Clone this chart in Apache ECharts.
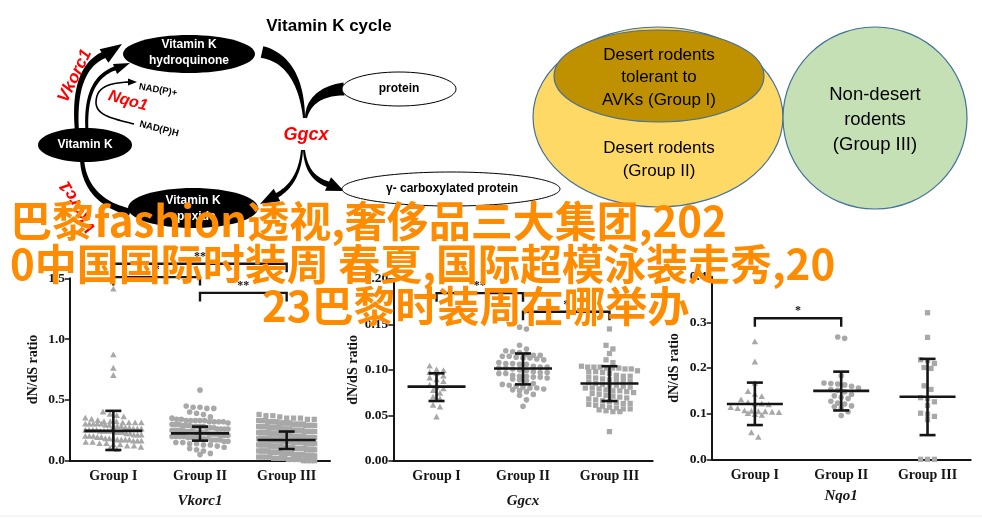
<!DOCTYPE html>
<html><head><meta charset="utf-8">
<script src="https://cdn.jsdelivr.net/npm/echarts@6/dist/echarts.min.js"></script>
<style>html,body{margin:0;padding:0;background:#fff}#c{width:982px;height:518px}</style>
</head><body><div id="c"></div>
<script>
// ---------- data ----------
const groups = ['Group I', 'Group II', 'Group III'];
const panelGenes = ['Vkorc1', 'Ggcx', 'Nqo1'];
const yTitle = 'dN/dS ratio';

// Vkorc1
const vkG1 = [1.41,0.87,0.76,0.70,0.40,0.38,0.37,0.36,0.35,0.34,0.33,
0.32,0.32,0.32,0.31,0.31,0.31,0.31,0.30,0.30,0.30,0.30,0.30,
0.29,0.29,0.28,0.28,0.28,0.27,0.27,0.26,0.26,0.26,
0.25,0.25,0.25,0.25,0.24,0.24,0.24,0.24,0.23,0.23,0.23,
0.22,0.22,0.21,0.21,0.21,0.20,0.20,0.20,0.19,0.19,
0.18,0.18,0.18,0.17,0.17,0.17,0.17,0.16,0.16,0.16,
0.15,0.15,0.14,0.14,0.13,0.13,0.12,0.12,0.11,0.10,0.09];
const vkG2 = [0.58,0.45,0.44,0.44,0.43,0.43,0.40,0.39,0.38,0.36,0.35,
0.34,0.34,0.33,0.33,0.33,0.33,0.33,0.32,0.32,0.32,0.32,
0.31,0.30,0.30,0.30,0.29,0.29,0.29,0.28,0.28,0.28,0.28,
0.27,0.27,0.27,0.26,0.26,0.26,0.26,0.25,0.25,0.25,0.25,0.25,
0.24,0.24,0.24,0.24,0.23,0.23,0.23,0.23,0.23,0.22,0.22,0.22,0.22,
0.21,0.21,0.21,0.21,0.20,0.20,0.20,0.20,0.19,0.19,0.19,0.18,0.18,0.18,
0.17,0.17,0.17,0.16,0.16,0.15,0.15,0.14,0.14,0.13,0.13,0.12,0.11,0.10,0.09,0.08,0.06,0.05];
const vkG3 = [0.38,0.37,0.37,0.36,0.35,0.35,0.35,0.34,0.34,0.33,0.33,0.33,0.33,
0.32,0.32,0.32,0.32,0.32,0.31,0.31,0.31,0.31,0.31,0.31,0.30,0.30,0.30,0.30,0.30,0.30,
0.29,0.29,0.29,0.29,0.29,0.28,0.28,0.28,0.28,0.28,0.27,0.27,0.27,0.27,0.27,0.27,
0.26,0.26,0.26,0.26,0.26,0.25,0.25,0.25,0.25,0.25,0.25,0.24,0.24,0.24,0.24,0.24,0.24,
0.23,0.23,0.23,0.23,0.23,0.23,0.22,0.22,0.22,0.22,0.22,0.22,0.21,0.21,0.21,0.21,0.21,0.21,
0.20,0.20,0.20,0.20,0.20,0.20,0.20,0.19,0.19,0.19,0.19,0.19,0.19,
0.18,0.18,0.18,0.18,0.18,0.18,0.18,0.17,0.17,0.17,0.17,0.17,0.17,0.17,
0.16,0.16,0.16,0.16,0.16,0.16,0.15,0.15,0.15,0.15,0.15,0.15,0.15,
0.14,0.14,0.14,0.14,0.14,0.14,0.13,0.13,0.13,0.13,0.13,0.13,
0.12,0.12,0.12,0.12,0.12,0.12,0.11,0.11,0.11,0.11,0.11,0.11,
0.10,0.10,0.10,0.10,0.10,0.10,0.09,0.09,0.09,0.09,0.09,0.08,0.08,0.08,0.08,0.08,
0.07,0.07,0.07,0.07,0.07,0.06,0.06,0.06,0.06,0.06,0.05,0.05,0.05,0.05,0.05,
0.04,0.04,0.04,0.04,0.04,0.03,0.03,0.03,0.03,0.02,0.02,0.02,0.02,
0.01,0.01,0.01,0.01,0.00,0.00,0.00,0.00];
const vkMean = [0.245, 0.225, 0.170];
const vkLow  = [0.088, 0.165, 0.096];
const vkHigh = [0.410, 0.280, 0.240];
const vkBrackets = [[0,2,1.62],[0,1,1.51],[1,2,1.38]];
const vkStars = ['**','*','**'];
const vkTicks = {min:0, max:1.5, interval:0.5, digits:1};

// Ggcx
const ggG1 = [0.104,0.100,0.099,0.097,0.096,0.093,0.091,0.089,0.087,0.083,0.081,0.079,0.077,0.074,0.070,0.068,0.061,0.059,0.048];
const ggG2 = [0.147,0.145,0.127,0.123,0.121,0.120,0.119,0.117,0.116,0.116,0.115,0.115,0.114,0.113,0.113,0.112,0.111,
0.108,0.107,0.107,0.106,0.106,0.104,0.103,0.103,0.102,0.102,0.101,0.100,0.099,0.098,0.097,0.097,0.096,0.096,
0.094,0.093,0.093,0.092,0.092,0.091,0.090,0.089,0.088,0.085,0.084,0.083,0.082,0.081,0.080,0.080,0.079,0.078,
0.077,0.076,0.073,0.072,0.067,0.060];
const ggG3 = [0.145,0.127,0.123,0.118,0.111,0.108,0.104,0.103,0.103,0.103,0.102,0.102,0.102,0.101,0.101,
0.099,0.098,0.098,0.097,0.096,0.094,0.093,0.093,0.092,0.091,0.090,0.089,0.089,0.088,0.087,0.086,
0.085,0.084,0.083,0.083,0.082,0.081,0.080,0.080,0.079,0.078,0.077,0.077,0.076,0.075,0.074,0.073,
0.072,0.071,0.070,0.069,0.068,0.067,0.066,0.065,0.064,0.063,0.063,0.062,0.061,0.060,0.059,
0.058,0.057,0.057,0.056,0.055,0.054,0.054,0.032];
const ggMean = [0.0815, 0.1015, 0.0850];
const ggLow  = [0.0657, 0.0840, 0.0657];
const ggHigh = [0.0962, 0.1180, 0.1040];
const ggBrackets = [[0,1,0.1844],[1,2,0.164]];
const ggStars = ['**','*'];
const ggTicks = {min:0, max:0.2, interval:0.05, digits:2};

// Nqo1
const nqG1 = [0.257,0.213,0.166,0.148,0.142,0.137,0.130,0.124,0.121,0.121,0.119,0.113,0.111,0.106,0.105,0.104,0.104,0.103,0.102,0.100,0.098,0.096,0.058,0.048];
const nqG2 = [0.268,0.265,0.183,0.167,0.166,0.165,0.163,0.160,0.156,0.153,0.151,0.148,0.142,0.139,0.136,0.133,0.127,0.123,0.121,0.117,0.115,0.112,0.104,0.096];
const nqG3 = [0.321,0.267,0.218,0.216,0.210,0.201,0.199,0.161,0.153,0.135,0.133,0.126,0.118,0.101,0.099,0.094,0.087,0,0,0];
const nqMean = [0.121, 0.150, 0.137];
const nqLow  = [0.075, 0.107, 0.053];
const nqHigh = [0.168, 0.192, 0.220];
const nqBrackets = [[0,1,0.309]];
const nqStars = ['*'];
const nqTicks = {min:0, max:0.4, interval:0.1, digits:1};

// Venn and diagram labels
const vennGroupI = ['Desert rodents', 'tolerant to', 'AVKs (Group I)'];
const vennGroupII = ['Desert rodents', '(Group II)'];
const vennGroupIII = ['Non-desert', 'rodents', '(Group III)'];
const overlayLines = ['巴黎fashion透视,奢侈品三大集团,202', '0中国国际时装周 春夏,国际超模泳装走秀,20', '23巴黎时装周在哪举办'];

// ---------- layout ----------
const serif = '"Liberation Serif", "DejaVu Serif", serif';
const sans = '"Liberation Sans", Arial, sans-serif';
const grids = [
  {left:70, top:278.3, width:260, height:182.4},
  {left:393.3, top:279, width:259.4, height:181.7},
  {left:711.7, top:276.7, width:259, height:182.6}
];
const panels = [
  {g:[vkG1,vkG2,vkG3], mean:vkMean, low:vkLow, high:vkHigh, br:vkBrackets, st:vkStars, t:vkTicks, nameGap:33, mw:29},
  {g:[ggG1,ggG2,ggG3], mean:ggMean, low:ggLow, high:ggHigh, br:ggBrackets, st:ggStars, t:ggTicks, nameGap:33, mw:29},
  {g:[nqG1,nqG2,nqG3], mean:nqMean, low:nqLow, high:nqHigh, br:nqBrackets, st:nqStars, t:nqTicks, nameGap:29, mw:28}
];
const shapes = ['triangle','circle','square'];
const ptColor = '#a8a8a8';
const ink = '#151515';

function marker(shape, x, y, s) {
  const st = {fill: ptColor};
  if (shape === 'triangle') return {type:'polygon', shape:{points:[[x, y - s*0.62],[x - s*0.58, y + s*0.42],[x + s*0.58, y + s*0.42]]}, style:st};
  if (shape === 'circle') return {type:'circle', shape:{cx:x, cy:y, r:s*0.5}, style:st};
  return {type:'rect', shape:{x:x - s*0.47, y:y - s*0.47, width:s*0.94, height:s*0.94}, style:st};
}

const series = [];
const xAxes = [], yAxes = [];
panels.forEach((p, gi) => {
  xAxes.push({
    type:'category', gridIndex:gi, data:groups, boundaryGap:true,
    axisLine:{lineStyle:{color:ink, width:2}},
    axisTick:{alignWithLabel:true, length:5, lineStyle:{color:ink, width:1.5}},
    axisLabel:{fontFamily:serif, fontWeight:'bold', fontSize:14, color:ink, margin:9},
    name:panelGenes[gi], nameLocation:'middle', nameGap:p.nameGap,
    nameTextStyle:{fontFamily:serif, fontStyle:'italic', fontWeight:'bold', fontSize:15, color:ink}
  });
  yAxes.push({
    type:'value', gridIndex:gi, min:p.t.min, max:p.t.max, interval:p.t.interval,
    splitLine:{show:false},
    axisLine:{show:true, lineStyle:{color:ink, width:2}},
    axisTick:{show:true, length:5, lineStyle:{color:ink, width:1.5}},
    axisLabel:{fontFamily:serif, fontWeight:'bold', fontSize:13.5, color:ink, margin:5,
      formatter:(v)=>v.toFixed(p.t.digits)},
    name:yTitle, nameLocation:'middle', nameGap:30, nameRotate:90,
    nameTextStyle:{fontFamily:serif, fontWeight:'bold', fontSize:14, color:ink}
  });
  // swarm points
  series.push({
    type:'custom', coordinateSystem:'cartesian2d', xAxisIndex:gi, yAxisIndex:gi, clip:false, z:2,
    data: p.g.map((vals, i) => [i, vals[vals.length-1]]),
    renderItem: (params, api) => {
      const i = params.dataIndex;
      const vals = p.g[i];
      const size = 5.6, maxHalf = 28;
      const cx = api.coord([i, 0])[0];
      const ys = vals.map(v => api.coord([i, v])[1]).sort((a,b) => a-b);
      const rows = []; let cur = null;
      ys.forEach(y => { if (cur && y - cur[0] < size*0.95) cur.push(y); else { cur = [y]; rows.push(cur); } });
      const children = [];
      rows.forEach(r => {
        const n = r.length;
        const s = n > 1 ? Math.min(size + 1.3, 2*maxHalf/(n-1)) : 0;
        r.forEach((y, k) => children.push(marker(shapes[i], cx + (k - (n-1)/2)*s, y, size)));
      });
      return {type:'group', children};
    }
  });
  // mean and SD error bars
  series.push({
    type:'custom', coordinateSystem:'cartesian2d', xAxisIndex:gi, yAxisIndex:gi, clip:false, z:5,
    data: p.mean.map((m, i) => [i, m, p.low[i], p.high[i]]),
    renderItem: (params, api) => {
      const i = api.value(0);
      const m = api.coord([i, api.value(1)]), lo = api.coord([i, api.value(2)]), hi = api.coord([i, api.value(3)]);
      const ls = {stroke:ink, lineWidth:2.6};
      const cap = 8, hw = p.mw;
      return {type:'group', children:[
        {type:'line', shape:{x1:m[0]-hw, y1:m[1], x2:m[0]+hw, y2:m[1]}, style:ls},
        {type:'line', shape:{x1:lo[0], y1:lo[1], x2:hi[0], y2:hi[1]}, style:ls},
        {type:'line', shape:{x1:lo[0]-cap, y1:lo[1], x2:lo[0]+cap, y2:lo[1]}, style:ls},
        {type:'line', shape:{x1:hi[0]-cap, y1:hi[1], x2:hi[0]+cap, y2:hi[1]}, style:ls}
      ]};
    }
  });
  // significance brackets
  series.push({
    type:'custom', coordinateSystem:'cartesian2d', xAxisIndex:gi, yAxisIndex:gi, clip:false, z:5,
    data: p.br.map(b => [b[0], b[2], b[1]]),
    renderItem: (params, api) => {
      const a = api.coord([api.value(0), api.value(1)]);
      const b = api.coord([api.value(2), api.value(1)]);
      const leg = 8.5;
      return {type:'group', children:[
        {type:'polyline', shape:{points:[[a[0], a[1]+leg],[a[0], a[1]],[b[0], b[1]],[b[0], b[1]+leg]]},
          style:{stroke:ink, lineWidth:2.4, fill:null}},
        {type:'text', style:{text:p.st[params.dataIndex], x:(a[0]+b[0])/2, y:a[1]-1,
          textAlign:'center', textVerticalAlign:'bottom', font:'bold 12px ' + serif, fill:ink}}
      ]};
    }
  });
});

// ---------- diagram helpers ----------
function bez(p0,p1,p2,p3,t){const u=1-t;return [u*u*u*p0[0]+3*u*u*t*p1[0]+3*u*t*t*p2[0]+t*t*t*p3[0], u*u*u*p0[1]+3*u*u*t*p1[1]+3*u*t*t*p2[1]+t*t*t*p3[1]];}
function taper(p0,p1,p2,p3,w0,w1){
  const L=[],R=[],n=30;
  for(let i=0;i<=n;i++){
    const t=i/n, a=bez(p0,p1,p2,p3,Math.max(0,t-0.01)), b=bez(p0,p1,p2,p3,Math.min(1,t+0.01)), c=bez(p0,p1,p2,p3,t);
    let dx=b[0]-a[0], dy=b[1]-a[1]; const len=Math.hypot(dx,dy)||1; dx/=len; dy/=len;
    const w=(w0+(w1-w0)*t)/2;
    L.push([c[0]-dy*w, c[1]+dx*w]); R.push([c[0]+dy*w, c[1]-dx*w]);
  }
  return {type:'polygon', shape:{points:L.concat(R.reverse())}, style:{fill:'#000'}};
}
function head(base, tip, half){
  let dx=tip[0]-base[0], dy=tip[1]-base[1]; const len=Math.hypot(dx,dy); dx/=len; dy/=len;
  return {type:'polygon', shape:{points:[tip,[base[0]-dy*half, base[1]+dx*half],[base[0]+dy*half, base[1]-dx*half]]}, style:{fill:'#000'}};
}
function ell(cx,cy,rx,ry,fill,stroke,lw){return {type:'ellipse', shape:{cx,cy,rx,ry}, style:{fill, stroke, lineWidth:lw||0}};}
function txt(s,x,y,font,fill,rot,align){return {type:'text', x, y, rotation:rot||0, style:{text:s, x:0, y:0, font, fill, textAlign:align||'center', textVerticalAlign:'middle'}};}

const g = [];
// arrows
g.push(taper([77,132],[74,95],[80,64],[106,54],4,7));
g.push(head([104,56],[122,44],8));
g.push(taper([87,132],[85,100],[92,76],[116,68],3,4));
g.push(head([115,69],[130,63],5.5));
g.push(taper([96,103],[96,89],[105,83],[129,82],1.6,1.6));
g.push(head([128,82],[137,82],3.5));
g.push(taper([96,103],[97,115],[110,118],[134,124],1.6,1.6));
g.push(taper([262,52],[290,58],[302,85],[304,118],12,2));
g.push(taper([344,89],[318,91],[308,104],[306,118],13,2));
g.push(taper([304,150],[306,170],[314,180],[330,185],2,6));
g.push(head([328,184],[344,191],7.5));
g.push(taper([302,150],[300,175],[290,188],[276,196],2,5));
g.push(head([277,195],[260,204],7));
g.push(taper([82,158],[83,186],[100,205],[130,212],4,7));
// ellipses
g.push(ell(189,54,66,19,'#000'));
g.push(txt('Vitamin K',189,45,'bold 12px ' + sans,'#fff'));
g.push(txt('hydroquinone',189,61,'bold 12px ' + sans,'#fff'));
g.push(ell(85,145,47,17,'#000'));
g.push(txt('Vitamin K',85,145,'bold 12px ' + sans,'#fff'));
g.push(ell(193,208,65,20,'#000'));
g.push(txt('Vitamin K',193,201,'bold 12px ' + sans,'#fff'));
g.push(txt('epoxide',193,217,'bold 12px ' + sans,'#fff'));
g.push(ell(399,89,57,17,'#fff','#000',1));
g.push(txt('protein',399,89,'bold 12px ' + sans,'#000'));
g.push(ell(451,189,109,17,'#fff','#000',1));
g.push(txt('γ- carboxylated protein',452,189,'bold 12px ' + sans,'#000'));
// labels
g.push(txt('Vitamin K cycle',329,26,'bold 17px ' + sans,'#000'));
g.push(txt('Vkorc1',75,76,'italic bold 17px ' + sans,'#f00',1.12));
g.push(txt('Vkorc1',78,207,'italic bold 17px ' + sans,'#f00',2.09));
g.push(txt('Nqo1',128,101,'italic bold 16px ' + sans,'#f00',-0.28));
g.push(txt('NAD(P)+',158,90,'bold 9.5px ' + sans,'#000',-0.17));
g.push(txt('NAD(P)H',159,129,'bold 9.5px ' + sans,'#000',-0.25));
g.push(txt('Ggcx',306,135,'italic bold 18px ' + sans,'#f00'));
// Venn
g.push(ell(658,117,125,90,'#FFD966','#41719C',1.2));
g.push(ell(659,76,105,46,'#BF9000','#41719C',1.2));
g.push(ell(875,118,92,91,'#C5E0B4','#41719C',1.2));
vennGroupI.forEach((s,i)=>g.push(txt(s,659,55+i*22.5,'17px ' + sans,'#000')));
vennGroupII.forEach((s,i)=>g.push(txt(s,659,148+i*23,'17px ' + sans,'#000')));
vennGroupIII.forEach((s,i)=>g.push(txt(s,875,95+i*25,'18.5px ' + sans,'#000')));
// bottom rule
g.push({type:'line', shape:{x1:0,y1:516,x2:982,y2:516}, style:{stroke:'#ececec', lineWidth:1}});
// overlay text
const ovX = [10, 10, 262], ovY = [221, 264, 306];
overlayLines.forEach((s,i)=>g.push({type:'text', z:100, x:ovX[i], y:ovY[i],
  style:{text:s, x:0, y:0, font:'bold 42px "Noto Sans CJK SC", sans-serif', fill:'#FF8C00', textAlign:'left', textVerticalAlign:'middle'}}));

const chart = echarts.init(document.getElementById('c'), null, {renderer:'canvas'});
chart.setOption({
  animation:false,
  backgroundColor:'#fff',
  grid: grids.map(gr => Object.assign({containLabel:false}, gr)),
  xAxis: xAxes, yAxis: yAxes, series,
  graphic: {elements: g.map(e => Object.assign({z: e.z || 50}, e))}
});
</script></body></html>
